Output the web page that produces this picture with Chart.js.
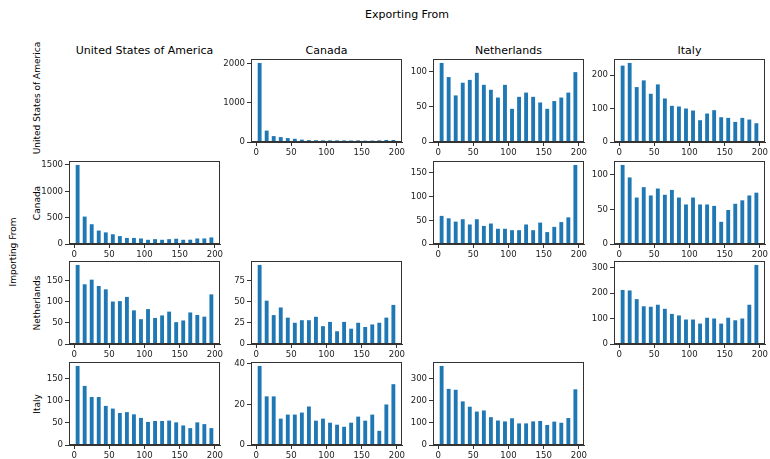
<!DOCTYPE html>
<html><head><meta charset="utf-8">
<script src="https://cdn.jsdelivr.net/npm/chart.js@4"></script>
<style>
body{margin:0;background:#fff;width:770px;height:459px;position:relative;overflow:hidden;font-family:"DejaVu Sans",sans-serif;color:#000}
.t{position:absolute;white-space:nowrap;transform:translate(-50%,-50%);line-height:1}
.r{position:absolute;white-space:nowrap;transform:translate(-50%,-50%) rotate(-90deg);line-height:1}
.c{position:absolute}
</style></head><body>
<div id="root"></div>
<script>
// ---- data (rows = importing from, columns = exporting from) ----
const countries = ["United States of America", "Canada", "Netherlands", "Italy"];
const binCenters = [5,15,25,35,45,55,65,75,85,95,105,115,125,135,145,155,165,175,185,195];
const xTickValues = [0,50,100,150,200];

const usa_from_canada = [2010,290,150,125,100,82,60,48,45,42,42,42,40,38,42,34,36,42,52,52];
const usa_from_netherlands = [112,92,66,84,88,98,81,74,63,81,47,64,70,64,56,47,58,63,70,99];
const usa_from_italy = [228,236,164,184,144,172,130,108,106,100,94,65,85,95,74,72,60,72,67,56];

const canada_from_usa = [1500,520,375,255,220,185,150,115,115,105,80,92,80,92,100,80,82,105,105,125];
const canada_from_netherlands = [59,54,47,52,41,52,38,43,32,32,29,29,41,29,45,25,36,46,56,166];
const canada_from_italy = [114,96,67,82,70,80,71,78,67,57,67,57,57,55,32,49,58,63,70,74];

const netherlands_from_usa = [188,142,153,138,130,101,102,112,80,59,83,62,68,77,52,56,75,69,65,118];
const netherlands_from_canada = [93,51,34,43,31,25,28,28,32,21,26,15,26,18,25,20,23,25,31,46];
const netherlands_from_italy = [212,210,176,148,146,154,138,118,112,96,96,80,103,100,80,103,93,100,154,310];

const italy_from_usa = [178,133,108,108,88,82,72,74,69,61,52,54,54,55,51,44,38,51,47,38];
const italy_from_canada = [39,24,24,13,15,15,16,19,12,13,11,10,9,11,14,12,15,7,20,30];
const italy_from_netherlands = [355,252,248,196,172,150,155,125,110,106,120,97,97,106,108,90,105,100,121,250];

const yTicks_usa_canada = [0,1000,2000];
const yTicks_usa_netherlands = [0,50,100];
const yTicks_usa_italy = [0,100,200];
const yTicks_canada_usa = [0,500,1000,1500];
const yTicks_canada_netherlands = [0,50,100,150];
const yTicks_canada_italy = [0,50,100];
const yTicks_netherlands_usa = [0,50,100,150];
const yTicks_netherlands_canada = [0,25,50,75];
const yTicks_netherlands_italy = [0,100,200,300];
const yTicks_italy_usa = [0,50,100,150];
const yTicks_italy_canada = [0,20,40];
const yTicks_italy_netherlands = [0,100,200,300];

const cells = [
  {row:0,col:1,values:usa_from_canada,yTicks:yTicks_usa_canada},
  {row:0,col:2,values:usa_from_netherlands,yTicks:yTicks_usa_netherlands},
  {row:0,col:3,values:usa_from_italy,yTicks:yTicks_usa_italy},
  {row:1,col:0,values:canada_from_usa,yTicks:yTicks_canada_usa},
  {row:1,col:2,values:canada_from_netherlands,yTicks:yTicks_canada_netherlands},
  {row:1,col:3,values:canada_from_italy,yTicks:yTicks_canada_italy},
  {row:2,col:0,values:netherlands_from_usa,yTicks:yTicks_netherlands_usa},
  {row:2,col:1,values:netherlands_from_canada,yTicks:yTicks_netherlands_canada},
  {row:2,col:3,values:netherlands_from_italy,yTicks:yTicks_netherlands_italy},
  {row:3,col:0,values:italy_from_usa,yTicks:yTicks_italy_usa},
  {row:3,col:1,values:italy_from_canada,yTicks:yTicks_italy_canada},
  {row:3,col:2,values:italy_from_netherlands,yTicks:yTicks_italy_netherlands}
];

// ---- layout ----
const colLeft = [69,251,433,614];
const rowTop = [59,161,261,362];
const plotW = 151, plotH = 83;
const yAxisW = 34, xAxisH = 18, padTop = 10, padRight = 14;
const tickFont = {family:"'DejaVu Sans Condensed', 'DejaVu Sans'", size:9.5};
const axisColor = '#333';

const root = document.getElementById('root');
function addText(cls, txt, x, y, size){
  const d = document.createElement('div');
  d.className = cls; d.textContent = txt;
  d.style.left = x+'px'; d.style.top = y+'px'; d.style.fontSize = size+'px';
  root.appendChild(d);
}
addText('t', 'Exporting From', 407, 14, 11);
countries.forEach((c,i)=>addText('t', c, colLeft[i]+plotW/2, 50, 11));
countries.forEach((c,i)=>addText('r', c, 37, rowTop[i]+plotH/2 - (i===0?3:0), 9));
addText('r', 'Importing From', 13, 252, 9);

const framePlugin = {
  id:'frame',
  afterDraw(chart){
    const a = chart.chartArea, ctx = chart.ctx;
    ctx.save();
    ctx.strokeStyle = axisColor; ctx.lineWidth = 1;
    ctx.strokeRect(Math.round(a.left)+0.5, Math.round(a.top)+0.5, Math.round(a.right-a.left)-1, Math.round(a.bottom-a.top)-1);
    ctx.restore();
  }
};

cells.forEach(cell=>{
  const div = document.createElement('div');
  div.className = 'c';
  div.style.left = (colLeft[cell.col]-yAxisW)+'px';
  div.style.top = (rowTop[cell.row]-padTop)+'px';
  div.style.width = (plotW+yAxisW+padRight)+'px';
  div.style.height = (plotH+xAxisH+padTop)+'px';
  const cv = document.createElement('canvas');
  div.appendChild(cv); root.appendChild(div);
  const maxV = Math.max(...cell.values);
  new Chart(cv, {
    type:'bar',
    data:{datasets:[{
      data: binCenters.map((x,i)=>({x:x, y:cell.values[i]})),
      backgroundColor:'#1f77b4', borderWidth:0,
      barPercentage:0.55, categoryPercentage:1.0
    }]},
    options:{
      responsive:true, maintainAspectRatio:false, animation:false,
      layout:{padding:{top:padTop,right:padRight,left:0,bottom:0}},
      plugins:{legend:{display:false}, tooltip:{enabled:false}},
      scales:{
        x:{type:'linear', min:-7.25, max:207.25, offset:false,
           afterBuildTicks:s=>{s.ticks = xTickValues.map(v=>({value:v}));},
           afterFit:s=>{s.height = xAxisH;},
           grid:{display:true, offset:false, drawOnChartArea:false, drawTicks:true, tickLength:4, color:axisColor},
           border:{display:true,color:axisColor},
           ticks:{font:tickFont, color:'#222', padding:1, maxRotation:0, autoSkip:false, callback:v=>String(v)}},
        y:{type:'linear', min:0, max:maxV*1.05,
           afterBuildTicks:s=>{s.ticks = cell.yTicks.map(v=>({value:v}));},
           afterFit:s=>{s.width = yAxisW;},
           grid:{display:true, drawOnChartArea:false, drawTicks:true, tickLength:4, color:axisColor},
           border:{display:true,color:axisColor},
           ticks:{font:tickFont, color:'#222', padding:2, autoSkip:false, callback:v=>String(v)}}
      }
    },
    plugins:[framePlugin]
  });
});
</script>
</body></html>
